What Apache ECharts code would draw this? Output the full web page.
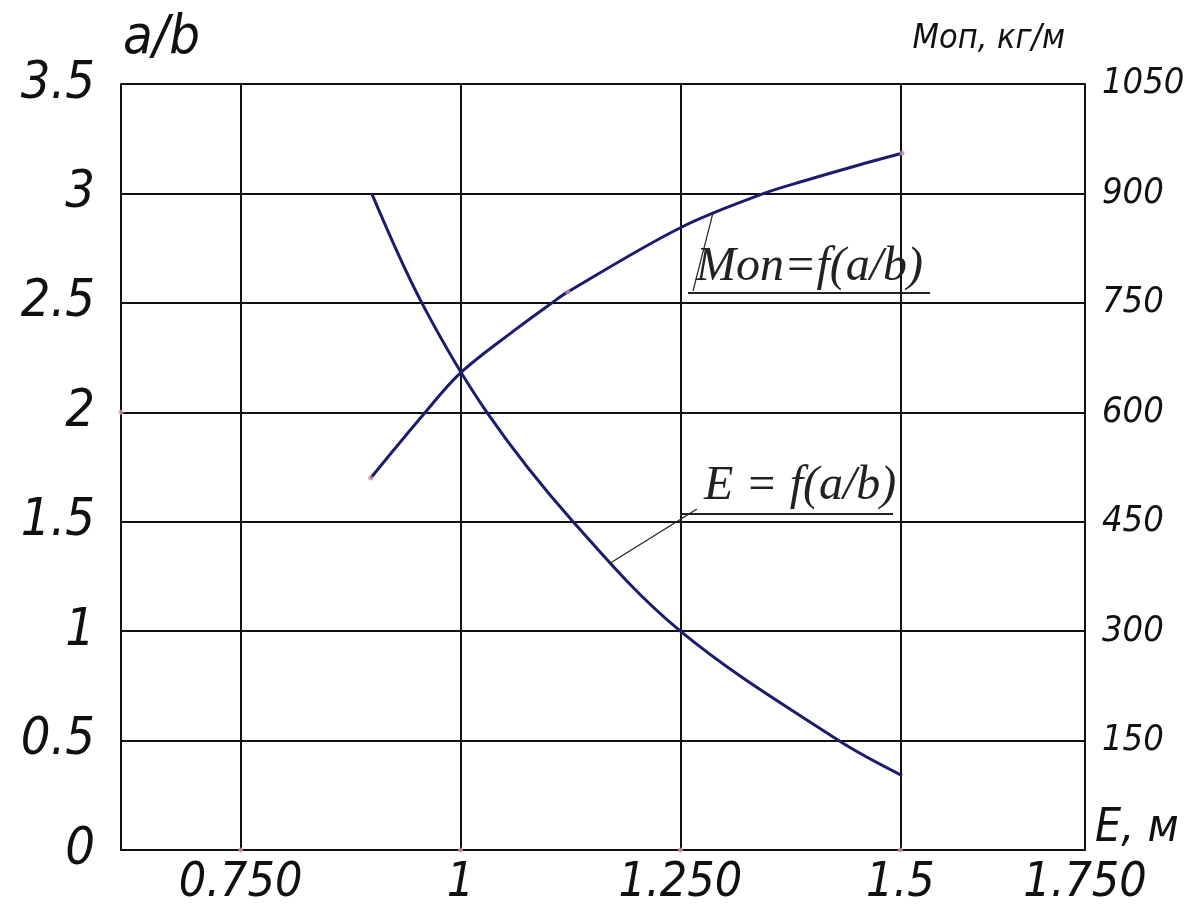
<!DOCTYPE html>
<html>
<head>
<meta charset="utf-8">
<script src="https://cdn.jsdelivr.net/npm/echarts@6/dist/echarts.min.js"></script>
<style>
html,body{margin:0;padding:0;background:#fff;}
#chart{width:1187px;height:918px;}
</style>
</head>
<body>
<div id="chart"></div>
<script>
// ---- data ----
const xMin = 0.614, xMax = 1.71;
const xTickValues = [0.75, 1, 1.25, 1.5];
const xTickLabels = ['0.750', '1', '1.250', '1.5'];
const xEdgeLabel = '1.750';
const yLeftTicks = [0, 0.5, 1, 1.5, 2, 2.5, 3, 3.5];
const yRightTicks = [0, 150, 300, 450, 600, 750, 900, 1050];
// E = f(a/b): [E, a/b] on left axis
const eSeries = [[0.899, 3.0], [0.956, 2.5], [1.03, 2.0], [1.128, 1.5], [1.25, 1.0], [1.43, 0.5], [1.502, 0.34]];
// Mon = f(a/b): [E, Mon] on right axis
const monSeries = [[0.898, 510], [0.96, 600], [1.0, 654], [1.062, 713], [1.104, 750], [1.122, 765], [1.25, 853], [1.345, 900], [1.39, 917], [1.45, 938], [1.502, 955]];
const monMarkers = [[0.898, 510], [1.122, 765], [1.502, 955]];
const axisDots = [[0.75, 0], [1, 0], [1.25, 0], [1.5, 0], [xMin, 2]];

const FONT = "'Liberation Sans Narrow','DejaVu Sans Condensed','Liberation Sans',sans-serif";
const chart = echarts.init(document.getElementById('chart'), null, {renderer: 'canvas'});
const thin = {textBorderColor: '#fff', textBorderWidth: 1.5};

const option = {
  backgroundColor: '#fff',
  animation: false,
  grid: {left: 121, right: 102, top: 84, bottom: 68, containLabel: false, outerBoundsMode: 'none'},
  xAxis: {
    type: 'value', min: xMin, max: xMax,
    name: 'E, м', nameLocation: 'end', nameGap: 10,
    nameTextStyle: Object.assign({fontFamily: FONT, fontStyle: 'italic', fontSize: 46, color: '#111', verticalAlign: 'bottom', padding: [0, 0, -2, 0]}, thin),
    axisLine: {show: true, lineStyle: {color: '#111', width: 2}},
    axisTick: {show: false},
    splitLine: {show: false},
    axisLabel: Object.assign({
      show: true,
      customValues: xTickValues.concat([xMax]),
      formatter: function (v) {
        if (Math.abs(v - xMax) < 1e-6) return xEdgeLabel;
        const i = xTickValues.findIndex(t => Math.abs(t - v) < 1e-6);
        return i >= 0 ? xTickLabels[i] : '';
      },
      fontFamily: FONT, fontStyle: 'italic', fontSize: 48, color: '#111', margin: 10
    }, thin)
  },
  yAxis: [
    {
      type: 'value', min: 0, max: 3.5, interval: 0.5, position: 'left',
      name: 'a/b', nameLocation: 'end', nameGap: 18,
      nameTextStyle: Object.assign({fontFamily: FONT, fontStyle: 'italic', fontSize: 54, color: '#111', align: 'left', padding: [0, 0, 0, 2]}, thin),
      axisLine: {show: true, lineStyle: {color: '#111', width: 2}},
      axisTick: {show: false},
      splitLine: {show: true, lineStyle: {color: '#111', width: 2}},
      axisLabel: Object.assign({
        formatter: v => { const i = yLeftTicks.findIndex(t => Math.abs(t - v) < 1e-6); return i >= 0 ? String(yLeftTicks[i]) : ''; },
        fontFamily: FONT, fontStyle: 'italic', fontSize: 52, color: '#111', margin: 26
      }, thin)
    },
    {
      type: 'value', min: 0, max: 1050, interval: 150, position: 'right',
      name: 'Моп, кг/м', nameLocation: 'end', nameGap: 28,
      nameTextStyle: Object.assign({fontFamily: FONT, fontStyle: 'italic', fontSize: 34, color: '#111', align: 'right', padding: [0, 20, 0, 0]}, thin),
      axisLine: {show: true, lineStyle: {color: '#111', width: 2}},
      axisTick: {show: false},
      splitLine: {show: false},
      axisLabel: Object.assign({
        formatter: v => { const i = yRightTicks.findIndex(t => Math.abs(t - v) < 1e-6); return (i > 0) ? String(yRightTicks[i]) : ''; },
        fontFamily: FONT, fontStyle: 'italic', fontSize: 36, color: '#111', margin: 17
      }, thin)
    }
  ],
  series: [
    {
      name: 'E', type: 'line', xAxisIndex: 0, yAxisIndex: 0,
      data: eSeries, smooth: 0.35, showSymbol: false,
      lineStyle: {color: '#1c1c6e', width: 3}, z: 5,
      markLine: {
        silent: true, symbol: ['none', 'none'], label: {show: false},
        lineStyle: {color: '#111', width: 2, type: 'solid'},
        data: xTickValues.map(v => ({xAxis: v}))
      }
    },
    {
      name: 'Mon', type: 'line', xAxisIndex: 0, yAxisIndex: 1,
      data: monSeries, smooth: 0.35, showSymbol: false,
      lineStyle: {color: '#1c1c6e', width: 3}, z: 5
    },
    {
      type: 'scatter', xAxisIndex: 0, yAxisIndex: 1, data: monMarkers,
      symbolSize: 5, itemStyle: {color: '#c88aa8'}, z: 6, silent: true
    },
    {
      type: 'scatter', xAxisIndex: 0, yAxisIndex: 0, data: axisDots,
      symbolSize: 5, itemStyle: {color: '#d89aa8'}, z: 6, silent: true
    }
  ]
};
chart.setOption(option);

// annotations anchored to the curves
const monAnchor = chart.convertToPixel({xAxisIndex: 0, yAxisIndex: 1}, [1.287, 873]);
const eAnchor = chart.convertToPixel({xAxisIndex: 0, yAxisIndex: 0}, [1.17, 1.31]);
const SERIF = "'Liberation Serif','DejaVu Serif',serif";
chart.setOption({
  graphic: [
    {type: 'text', left: 696, top: 243, z: 20,
      style: {text: 'Mon=f(a/b)', font: 'italic 48px ' + SERIF, fill: '#222'}},
    {type: 'line', z: 20, shape: {x1: 688, y1: 293, x2: 930, y2: 293}, style: {stroke: '#222', lineWidth: 2}},
    {type: 'line', z: 20, shape: {x1: 693, y1: 291, x2: monAnchor[0], y2: monAnchor[1]}, style: {stroke: '#222', lineWidth: 1.2}},
    {type: 'text', left: 704, top: 462, z: 20,
      style: {text: 'E = f(a/b)', font: 'italic 48px ' + SERIF, fill: '#222'}},
    {type: 'line', z: 20, shape: {x1: 680, y1: 514, x2: 893, y2: 514}, style: {stroke: '#222', lineWidth: 2}},
    {type: 'line', z: 20, shape: {x1: 697, y1: 509, x2: eAnchor[0], y2: eAnchor[1]}, style: {stroke: '#222', lineWidth: 1.2}}
  ]
});
</script>
</body>
</html>
